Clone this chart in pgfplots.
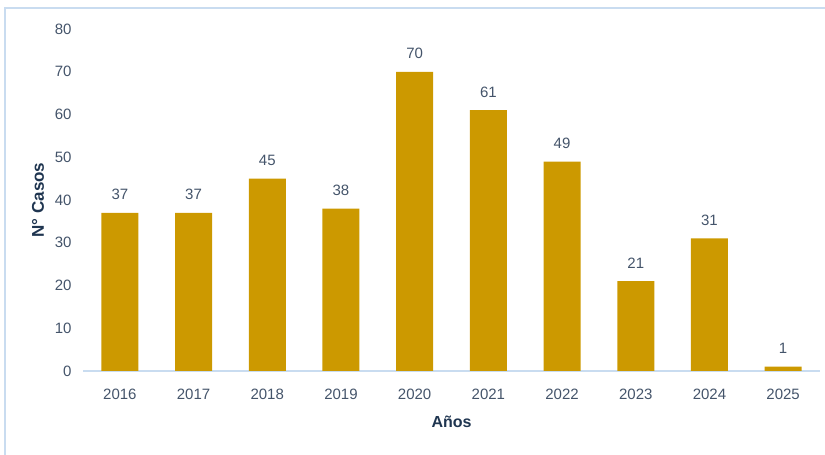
\documentclass[border=0pt]{standalone}
\usepackage{fontspec}
\setmainfont{Liberation Sans}
\usepackage{pgfplots}
\pgfplotsset{compat=1.18}
\definecolor{barc}{HTML}{CC9900}
\definecolor{txt}{HTML}{44546A}
\definecolor{axl}{HTML}{C9DCF0}
\definecolor{lab}{HTML}{1F3550}
\begin{document}
\begin{tikzpicture}[x=1pt,y=1pt]
\useasboundingbox (0,0) rectangle (825,455);
\draw[axl, line width=1.5pt] (5,-5) -- (5,447) -- (830,447);
\begin{axis}[
  at={(83pt,84pt)}, anchor=south west,
  scale only axis, width=737pt, height=342pt,
  xmin=-0.5, xmax=9.5, ymin=0, ymax=80,
  enlargelimits=false,
  ytick={0,10,...,80},
  xtick={0,...,9},
  xticklabels={2016,2017,2018,2019,2020,2021,2022,2023,2024,2025},
  axis x line*=bottom, axis y line*=left,
  y axis line style={draw=none},
  x axis line style={draw=axl, line width=1.5pt, -},
  major tick length=0pt,
  tick label style={font=\fontsize{15}{17}\selectfont, color=txt},
  yticklabel style={anchor=east, xshift=-8pt},
  xticklabel style={anchor=north, yshift=-14pt},
  /pgf/number format/assume math mode=true,
  ylabel={N° Casos},
  ylabel style={font=\bfseries\fontsize{17}{19}\selectfont, color=lab, at={(axis description cs:-0.061,0.5)}, anchor=center, rotate=0},
  xlabel={Años},
  xlabel style={font=\bfseries\fontsize{16}{18}\selectfont, color=lab, at={(axis description cs:0.5,-0.149)}, anchor=center},
  ybar, bar width=37pt,
  nodes near coords,
  nodes near coords style={font=\fontsize{15}{17}\selectfont, color=txt, anchor=center, yshift=18pt},
  clip=false,
]
\addplot[fill=barc, draw=none] coordinates {
(0,37) (1,37) (2,45) (3,38) (4,70) (5,61) (6,49) (7,21) (8,31) (9,1)
};
\end{axis}
\end{tikzpicture}
\end{document}
